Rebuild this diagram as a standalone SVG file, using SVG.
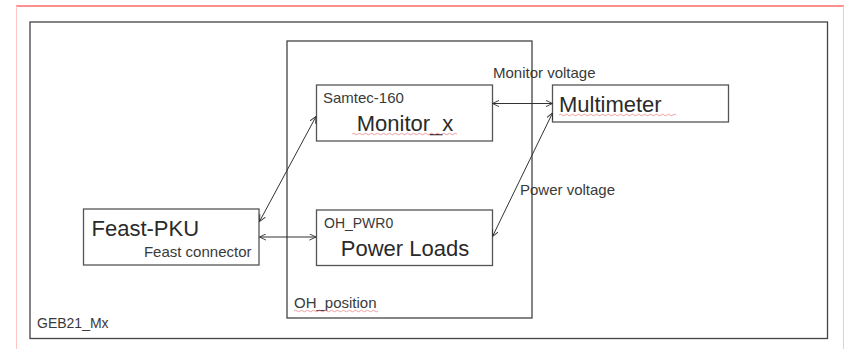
<svg xmlns="http://www.w3.org/2000/svg" width="850" height="349" viewBox="0 0 850 349">
  <style>
    .box { fill: #ffffff; stroke: #555555; stroke-width: 1.3; }
    .frame { fill: none; stroke: #444444; stroke-width: 1.3; }
    .conn { fill: none; stroke: #333333; stroke-width: 1; marker-start: url(#arr); marker-end: url(#arr); }
    text { font-family: "Liberation Sans", Arial, sans-serif; fill: #2a2a2a; }
    .big { font-size: 22px; }
    .small { font-size: 15px; fill: #3a3a3a; }
    .tiny { font-size: 14px; fill: #3a3a3a; }
    .squig { fill: none; stroke: #e06a6a; stroke-width: 0.8; opacity: 0.8; }
  </style>
  <defs>
    <marker id="arr" viewBox="0 0 10 10" refX="9.5" refY="5" markerWidth="7" markerHeight="7" markerUnits="userSpaceOnUse" orient="auto-start-reverse">
      <path d="M0,0.5 L9.5,5 L0,9.5" fill="none" stroke="#333333" stroke-width="1.3"/>
    </marker>
  </defs>

  <rect x="0" y="0" width="850" height="349" fill="#ffffff"/>

  <!-- page frame -->
  <g id="page">
    <line x1="16" y1="6" x2="844" y2="6" stroke="#ff6b6b" stroke-width="1.3"/>
    <line x1="16.5" y1="6" x2="16.5" y2="349" stroke="#ffc4c4" stroke-width="1"/>
    <line x1="843.5" y1="6" x2="843.5" y2="349" stroke="#ffc4c4" stroke-width="1"/>
  </g>

  <g id="GEB21_Mx">
    <rect class="frame" x="30" y="22" width="797.5" height="316.5"/>
    <text class="tiny" x="37" y="328">GEB21_Mx</text>
  </g>

  <g id="OH_position">
    <rect class="frame" x="287" y="41" width="245" height="277" stroke="#555555"/>
    <text class="small" x="294" y="308">OH_position</text>
    <path class="squig" d="M294,311 q1.5,-1.5 3,0 t3,0 t3,0 t3,0 t3,0 t3,0 t3,0 t3,0 t3,0 t3,0 t3,0 t3,0 t3,0 t3,0 t3,0 t3,0 t3,0 t3,0 t3,0 t3,0 t3,0 t3,0 t3,0 t3,0 t3,0 t3,0 t3,0 t3,0"/>
  </g>

  <g id="Monitor_x">
    <rect class="box" x="316.5" y="85" width="176" height="56"/>
    <text class="small" x="323" y="103">Samtec-160</text>
    <text class="big" x="405" y="131" text-anchor="middle" font-size="23">Monitor_x</text>
    <path class="squig" d="M352,134 q1.5,-1.5 3,0 t3,0 t3,0 t3,0 t3,0 t3,0 t3,0 t3,0 t3,0 t3,0 t3,0 t3,0 t3,0 t3,0 t3,0 t3,0 t3,0 t3,0 t3,0 t3,0 t3,0 t3,0 t3,0 t3,0 t3,0 t3,0 t3,0 t3,0 t3,0 t3,0 t3,0 t3,0 t3,0 t3,0 t3,0"/>
  </g>

  <g id="Power_Loads">
    <rect class="box" x="316.5" y="210" width="176" height="55.5"/>
    <text class="tiny" x="324" y="228">OH_PWR0</text>
    <text class="big" x="405" y="256" text-anchor="middle" font-size="23">Power Loads</text>
  </g>

  <g id="Multimeter">
    <rect class="box" x="552.5" y="85" width="176" height="37"/>
    <text class="big" x="559" y="112" font-size="24">Multimeter</text>
    <path class="squig" d="M559,115 q1.5,-1.5 3,0 t3,0 t3,0 t3,0 t3,0 t3,0 t3,0 t3,0 t3,0 t3,0 t3,0 t3,0 t3,0 t3,0 t3,0 t3,0 t3,0 t3,0 t3,0 t3,0 t3,0 t3,0 t3,0 t3,0 t3,0 t3,0 t3,0 t3,0 t3,0 t3,0 t3,0 t3,0 t3,0 t3,0 t3,0 t3,0 t3,0 t3,0 t3,0"/>
  </g>

  <g id="Feast_PKU">
    <rect class="box" x="83.5" y="209" width="175.5" height="56"/>
    <text class="big" x="91.5" y="236">Feast-PKU</text>
    <text class="small" x="251.5" y="257" text-anchor="end">Feast connector</text>
  </g>

  <g id="connectors">
    <line class="conn" x1="259.5" y1="221.5" x2="316" y2="116.5"/>
    <line class="conn" x1="259.5" y1="237" x2="316" y2="237"/>
    <line class="conn" x1="492.5" y1="103.5" x2="552.5" y2="103.5"/>
    <line class="conn" x1="492.5" y1="236.5" x2="552.5" y2="113"/>
    <text class="small" x="493" y="78">Monitor voltage</text>
    <text class="small" x="520" y="195">Power voltage</text>
  </g>
</svg>
